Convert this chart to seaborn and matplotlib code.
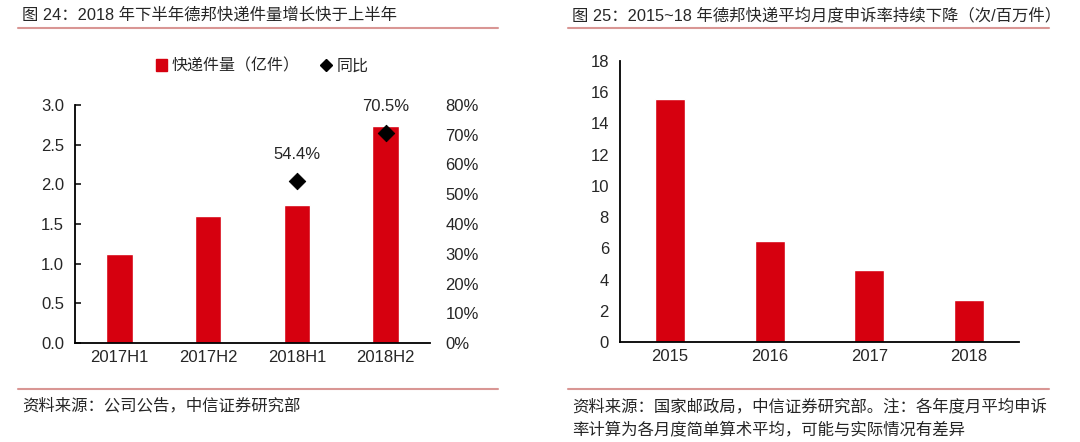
import pandas as pd
import matplotlib.pyplot as plt
import matplotlib.lines as mlines
import matplotlib.patches as mpatches
import seaborn as sns

sns.set_style('white')
plt.rcParams['font.family'] = ['Liberation Sans', 'Noto Sans CJK SC']
plt.rcParams['axes.unicode_minus'] = False

# 图 24 数据
periods = ['2017H1', '2017H2', '2018H1', '2018H2']
volume = [1.12, 1.60, 1.74, 2.73]          # 快递件量（亿件）
yoy = [None, None, 54.4, 70.5]             # 同比（%）

# 图 25 数据
years = ['2015', '2016', '2017', '2018']
complaint = [15.55, 6.5, 4.6, 2.7]         # 次/百万件

RED = '#d6000f'
RULE = '#d99694'
W, H = 1080, 442

fig = plt.figure(figsize=(W / 100, H / 100), dpi=100)


def px(x0, y_top, x1, y_bot):
    return [x0 / W, 1 - y_bot / H, (x1 - x0) / W, (y_bot - y_top) / H]


def style_axis(ax):
    for s in ['top', 'right']:
        ax.spines[s].set_visible(False)
    for s in ['left', 'bottom']:
        ax.spines[s].set_color('black')
        ax.spines[s].set_linewidth(1.3)
    ax.tick_params(axis='y', direction='in', length=4, width=1.3, labelsize=12, pad=8)
    ax.tick_params(axis='x', length=0, labelsize=12, pad=5)
    ax.set_xlabel('')
    ax.set_ylabel('')


# 左图
df1 = pd.DataFrame({'period': periods, 'volume': volume, 'yoy': yoy})
ax1 = fig.add_axes(px(75, 105, 430, 343))
sns.barplot(data=df1, x='period', y='volume', color=RED, width=0.3, saturation=1, ax=ax1)
ax1.set_ylim(0, 3.0)
ax1.set_xlim(-0.5, 3.5)
ax1.set_yticks([0, 0.5, 1.0, 1.5, 2.0, 2.5, 3.0])
ax1.set_yticklabels([f'{v:.1f}' for v in [0, 0.5, 1.0, 1.5, 2.0, 2.5, 3.0]])
style_axis(ax1)

ax2 = ax1.twinx()
pts = df1.dropna(subset=['yoy'])
sns.scatterplot(data=pts, x='period', y='yoy', marker='D', color='black', s=70,
                edgecolor='black', ax=ax2, legend=False)
ax2.set_ylim(0, 80)
ax2.set_yticks(range(0, 81, 10))
ax2.set_yticklabels([f'{v}%' for v in range(0, 81, 10)])
for s in ['top', 'right', 'left', 'bottom']:
    ax2.spines[s].set_visible(False)
ax2.tick_params(axis='y', length=0, labelsize=12, pad=11)
ax2.set_ylabel('')
ax2.set_xlim(-0.5, 3.5)
for i, row in pts.iterrows():
    ax2.annotate(f"{row['yoy']:.1f}%", (periods.index(row['period']), row['yoy']),
                 xytext=(0, 14), textcoords='offset points', ha='center', va='bottom', fontsize=12)

h_bar = mpatches.Patch(color=RED, label='快递件量（亿件）')
h_pt = mlines.Line2D([], [], color='black', marker='D', linestyle='None', markersize=6, label='同比')
fig.legend(handles=[h_bar, h_pt], loc='center', bbox_to_anchor=(262 / W, 1 - 66 / H), ncol=2,
           frameon=False, fontsize=11.5, handlelength=0.7, handletextpad=0.3, columnspacing=1.3)

# 右图
df2 = pd.DataFrame({'year': years, 'rate': complaint})
ax3 = fig.add_axes(px(620, 61, 1019, 342))
sns.barplot(data=df2, x='year', y='rate', color=RED, width=0.3, saturation=1, ax=ax3)
ax3.set_ylim(0, 18)
ax3.set_xlim(-0.5, 3.5)
ax3.set_yticks(range(0, 19, 2))
style_axis(ax3)

# 标题、分隔线与资料来源
fig.text(22 / W, 1 - 15 / H, '图 24：2018 年下半年德邦快递件量增长快于上半年', fontsize=11.8, va='center', ha='left')
fig.text(572 / W, 1 - 15 / H, '图 25：2015~18 年德邦快递平均月度申诉率持续下降（次/百万件）', fontsize=11.8, va='center', ha='left')
for x0, x1 in [(18, 498), (568, 1049)]:
    fig.add_artist(mlines.Line2D([x0 / W, x1 / W], [1 - 28 / H, 1 - 28 / H], color=RULE, lw=1.5))
    fig.add_artist(mlines.Line2D([x0 / W, x1 / W], [1 - 389 / H, 1 - 389 / H], color=RULE, lw=1.5))

fig.text(22 / W, 1 - 406 / H, '资料来源：公司公告，中信证券研究部', fontsize=11.8, va='center', ha='left')
fig.text(572 / W, 1 - 406 / H, '资料来源：国家邮政局，中信证券研究部。注：各年度月平均申诉', fontsize=11.8, va='center', ha='left')
fig.text(572 / W, 1 - 429 / H, '率计算为各月度简单算术平均，可能与实际情况有差异', fontsize=11.8, va='center', ha='left')

fig.savefig('out.png', dpi=100)
